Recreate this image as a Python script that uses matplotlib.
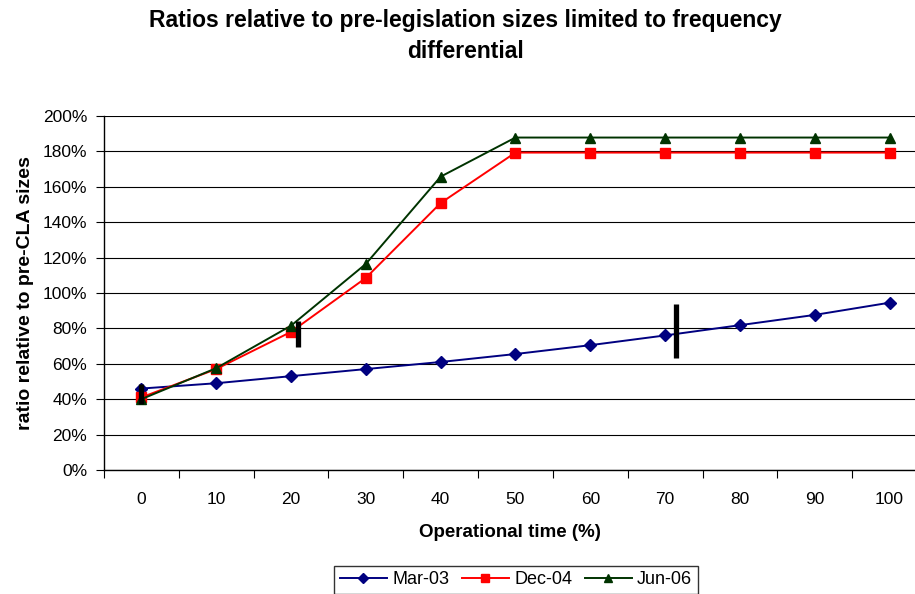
import matplotlib.pyplot as plt
from matplotlib.ticker import FuncFormatter, FixedLocator

plt.rcParams['font.family'] = ['Liberation Sans', 'DejaVu Sans']

# categories on the x axis (operational time %)
categories = ['0', '10', '20', '30', '40', '50', '60', '70', '80', '90', '100']

# ratios relative to pre-CLA sizes, in percent
mar03 = [46, 49, 53, 57, 61, 65.5, 70.5, 76, 81.8, 87.6, 94.5]
dec04 = [41, 57, 78, 108.5, 150.8, 179.3, 179.3, 179.3, 179.3, 179.3, 179.3]
jun06 = [40, 57.5, 81.5, 116.4, 165.7, 187.8, 187.8, 187.8, 187.8, 187.8, 187.8]

# black vertical marks drawn on the chart: x position (category index), y bottom, y top
mark_x = [0.0, 2.09, 7.15]
mark_lo = [37.3, 69.6, 63.4]
mark_hi = [48.6, 84.1, 93.8]

fig = plt.figure(figsize=(9.15, 5.94), dpi=100)
ax = fig.add_axes([0.1136, 0.2088, 0.8864, 0.5960])

x = list(range(len(categories)))
ax.plot(x, mar03, color='#000080', lw=1.4, marker='D', ms=6.5, label='Mar-03', zorder=3)
ax.plot(x, dec04, color='#FF0000', lw=1.4, marker='s', ms=6.5, label='Dec-04', zorder=4)
ax.plot(x, jun06, color='#003300', lw=1.4, marker='^', ms=7.5, label='Jun-06', zorder=5)

ax.vlines(mark_x, mark_lo, mark_hi, colors='black', lw=3.8, zorder=6)

ax.set_xlim(-0.5, 10.34)
ax.set_ylim(0, 200)
ax.set_yticks(range(0, 201, 20))
ax.yaxis.set_major_formatter(FuncFormatter(lambda v, p: f'{int(v)}%'))
ax.yaxis.grid(True, color='black', lw=0.8)
ax.set_axisbelow(True)

ax.set_xticks(x)
ax.set_xticklabels(categories)
ax.xaxis.set_minor_locator(FixedLocator([i - 0.5 for i in range(len(categories) + 1)]))
ax.tick_params(axis='x', which='major', length=0, pad=16, labelsize=12.5)
ax.tick_params(axis='x', which='minor', length=6, width=0.8, direction='out')
ax.tick_params(axis='y', length=6, width=0.8, direction='out', labelsize=12.5, pad=6)

for side in ['top', 'right']:
    ax.spines[side].set_visible(False)
ax.spines['left'].set_linewidth(1.0)
ax.spines['bottom'].set_linewidth(1.0)

ax.set_xlabel('Operational time (%)', fontsize=13.5, fontweight='bold', labelpad=12)
ax.set_ylabel('ratio relative to pre-CLA sizes', fontsize=14, fontweight='bold', labelpad=6)

fig.text(465 / 915, 1 - 36 / 594,
         'Ratios relative to pre-legislation sizes limited to frequency\ndifferential',
         ha='center', va='center', fontsize=16.5, fontweight='bold', linespacing=1.45)

leg = fig.legend(loc='upper center', bbox_to_anchor=(516 / 915, 1 - 566 / 594), ncol=3,
                 fontsize=13, frameon=True, fancybox=False, edgecolor='black',
                 handlelength=2.6, columnspacing=0.7, handletextpad=0.3,
                 borderpad=0.3, borderaxespad=0, markerscale=0.8)
leg.get_frame().set_linewidth(1.0)

fig.savefig('out.png', dpi=100)
